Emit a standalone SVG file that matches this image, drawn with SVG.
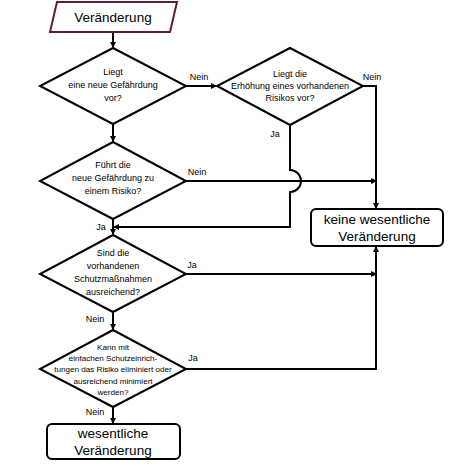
<svg xmlns="http://www.w3.org/2000/svg" width="454" height="469" viewBox="0 0 454 469">
<defs>
<marker id="ah" markerWidth="6" markerHeight="6" refX="5" refY="3" orient="auto" markerUnits="userSpaceOnUse">
<path d="M0,0 L6,3 L0,6 Z" fill="#000"/>
</marker>
<style>
.shape{fill:#fff;stroke:#000;stroke-width:2}
.line{fill:none;stroke:#000;stroke-width:2}
text{font-family:"Liberation Sans",Arial,sans-serif;fill:#000;text-anchor:middle}
.q{font-size:9px}
.q5{font-size:8.1px}
.lbl{font-size:9px}
.big{font-size:13.5px}
</style>
</defs>
<rect width="454" height="469" fill="#fff"/>
<g id="connectors">
<path class="line" d="M113,32 L113,47" marker-end="url(#ah)"/>
<path class="line" d="M186,86 L216,86" marker-end="url(#ah)"/>
<path class="line" d="M363,86 L376,86 L376,208" marker-end="url(#ah)"/>
<path class="line" d="M113,124 L113,141" marker-end="url(#ah)"/>
<path class="line" d="M186,181 L376,181" marker-end="url(#ah)"/>
<path class="line" d="M290,125 L290,170 A11,11 0 0 1 290,192 L290,227 L114,227" marker-end="url(#ah)"/>
<path class="line" d="M113,219 L113,234" marker-end="url(#ah)"/>
<path class="line" d="M186,274 L376,274" marker-end="url(#ah)"/>
<path class="line" d="M186,369 L376,369 L376,247" marker-end="url(#ah)"/>
<path class="line" d="M113,312 L113,329" marker-end="url(#ah)"/>
<path class="line" d="M113,407 L113,423" marker-end="url(#ah)"/>
<text class="lbl" x="199" y="80">Nein</text>
<text class="lbl" x="372" y="80">Nein</text>
<text class="lbl" x="275" y="137">Ja</text>
<text class="lbl" x="197" y="175">Nein</text>
<text class="lbl" x="101" y="230">Ja</text>
<text class="lbl" x="192" y="268">Ja</text>
<text class="lbl" x="95" y="322">Nein</text>
<text class="lbl" x="193" y="361">Ja</text>
<text class="lbl" x="95" y="415">Nein</text>
</g>
<g id="start">
<path d="M57,2 L177,2 L170,32 L50,32 Z" fill="#fff" stroke="#5a2030" stroke-width="2"/>
<text class="big" x="113" y="22">Veränderung</text>
</g>
<g id="q1">
<path class="shape" d="M113,48 L186,86 L113,124 L40,86 Z"/>
<text class="q" x="113" y="75">Liegt</text>
<text class="q" x="113" y="88">eine neue Gefährdung</text>
<text class="q" x="113" y="101">vor?</text>
</g>
<g id="q2">
<path class="shape" d="M290,48 L363,86 L290,125 L217,86 Z"/>
<text class="q" x="290" y="77">Liegt die</text>
<text class="q" x="290" y="89">Erhöhung eines vorhandenen</text>
<text class="q" x="290" y="101">Risikos vor?</text>
</g>
<g id="q3">
<path class="shape" d="M113,142 L186,181 L113,219 L40,181 Z"/>
<text class="q" x="113" y="168">Führt die</text>
<text class="q" x="113" y="181">neue Gefährdung zu</text>
<text class="q" x="113" y="194">einem Risiko?</text>
</g>
<g id="q4">
<path class="shape" d="M113,235 L186,274 L113,312 L40,274 Z"/>
<text class="q" x="113" y="256">Sind die</text>
<text class="q" x="113" y="269">vorhandenen</text>
<text class="q" x="113" y="282">Schutzmaßnahmen</text>
<text class="q" x="113" y="295">ausreichend?</text>
</g>
<g id="q5">
<path class="shape" d="M113,330 L186,369 L113,407 L40,369 Z"/>
<text class="q5" x="113" y="350">Kann mit</text>
<text class="q5" x="113" y="361">einfachen Schutzeinrich-</text>
<text class="q5" x="113" y="372">tungen das Risiko eliminiert oder</text>
<text class="q5" x="113" y="384">ausreichend minimiert</text>
<text class="q5" x="113" y="395">werden?</text>
</g>
<g id="keine">
<rect class="shape" x="311" y="209" width="132" height="37" rx="5"/>
<text class="big" x="377" y="224">keine wesentliche</text>
<text class="big" x="377" y="241">Veränderung</text>
</g>
<g id="wesentlich">
<rect class="shape" x="47" y="424" width="133" height="35" rx="5"/>
<text class="big" x="113" y="438">wesentliche</text>
<text class="big" x="113" y="455">Veränderung</text>
</g>
</svg>
